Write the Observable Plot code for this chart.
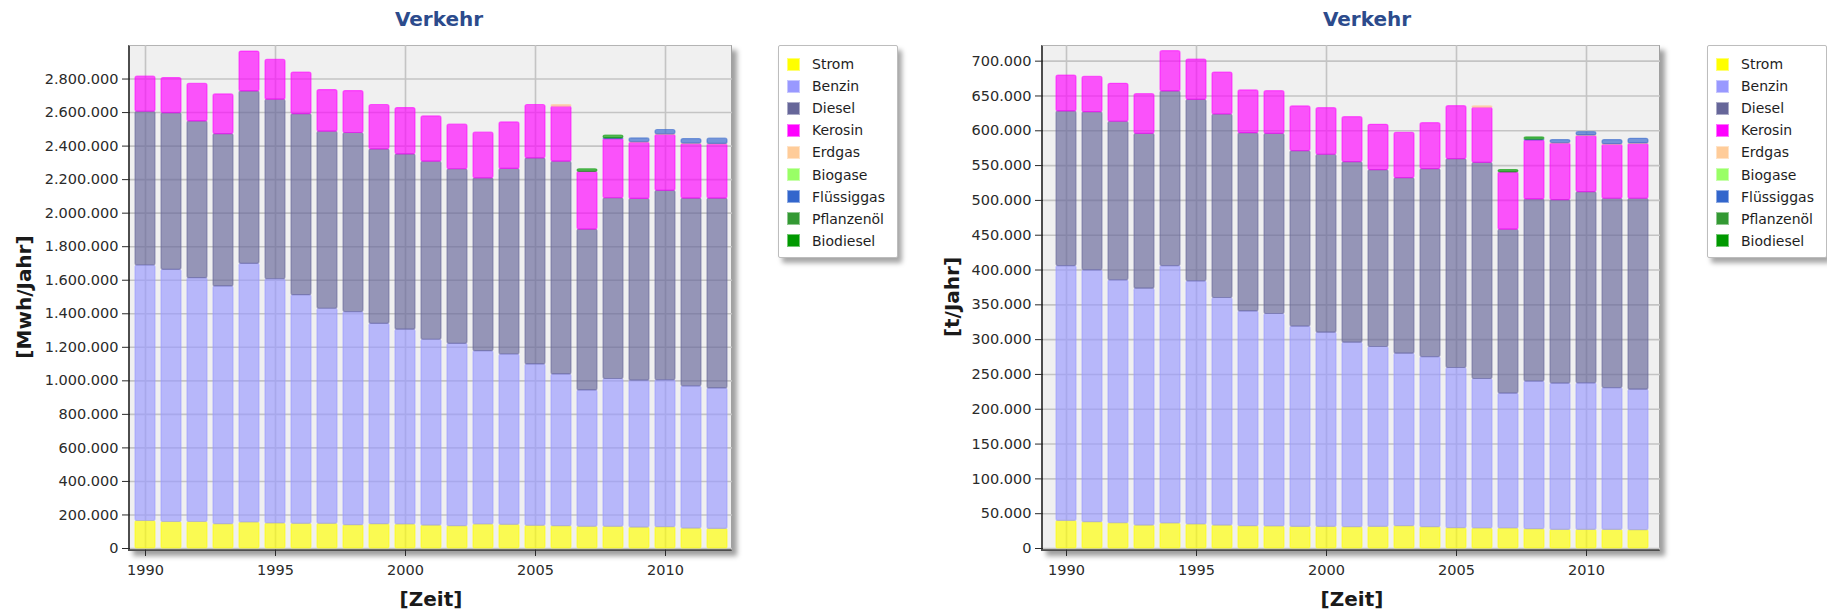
<!DOCTYPE html>
<html>
<head>
<meta charset="utf-8">
<script src="https://cdn.jsdelivr.net/npm/d3@7"></script>
<script src="https://cdn.jsdelivr.net/npm/@observablehq/plot@0.6"></script>
<style>
  body { margin: 0; background: #fff; font-family: "DejaVu Sans", Verdana, sans-serif; }
  #root { position: relative; width: 1827px; height: 611px; overflow: hidden; }
  .frame { position: absolute; box-sizing: border-box; background: #f0f0f0;
           border-left: 2.5px solid #4d4d4d; border-bottom: 2.5px solid #4d4d4d;
           border-top: 1px solid #b4b4b4; border-right: 1px solid #a0a0a0;
           box-shadow: 5px 5px 5px rgba(0,0,0,0.38); }
  .chart { position: absolute; top: 0; }
  .title { position: absolute; font-weight: bold; font-size: 20px; color: #2c4b8c;
           transform: translateX(-50%); white-space: nowrap; line-height: 20px; }
  .atitle { position: absolute; font-weight: bold; font-size: 20px; color: #1a1a1a;
            white-space: nowrap; line-height: 20px; }
  .legend { position: absolute; box-sizing: border-box; background: #fff; border: 1px solid #bdbdbd;
            border-radius: 2px; box-shadow: 4px 5px 5px rgba(0,0,0,0.35); font-size: 14px; color: #1e1e1e;
            padding-top: 7px; }
  .legend .item { display: flex; align-items: center; height: 22.1px; padding-left: 8px; }
  .legend .sw { width: 13px; height: 13px; margin-right: 12px; box-shadow: inset 0 0 0 1px rgba(255,255,255,0.45); }
</style>
</head>
<body>
<div id="root"></div>
<script>
// ---------------- data ----------------
const years = [1990,1991,1992,1993,1994,1995,1996,1997,1998,1999,2000,2001,2002,2003,2004,2005,2006,2007,2008,2009,2010,2011,2012];
const tickYears = [1990, 1995, 2000, 2005, 2010];
const fuels = ["Strom","Benzin","Diesel","Kerosin","Erdgas","Biogase","Flüssiggas","Pflanzenöl","Biodiesel"];
const fuelColors = ["#ffff00","#9999ff","#666699","#ff00ff","#ffcc99","#99ff66","#3366cc","#339933","#009900"];

// Energy, MWh/Jahr
const mwhStrom      = [164000,158000,158000,145000,155000,149000,147000,147000,139000,145000,143000,137000,133000,143000,141000,135000,133000,129000,129000,125000,127000,119000,117000];
const mwhBenzin     = [1524000,1504000,1454000,1418000,1543000,1457000,1364000,1283000,1271000,1195000,1162000,1108000,1088000,1034000,1016000,963000,905000,814000,882000,876000,876000,848000,838000];
const mwhDiesel     = [917000,935000,935000,909000,1028000,1071000,1080000,1056000,1068000,1041000,1046000,1062000,1041000,1031000,1107000,1229000,1269000,959000,1078000,1084000,1130000,1120000,1132000];
const mwhKerosin    = [209000,209000,225000,236000,238000,238000,248000,248000,250000,264000,276000,270000,266000,272000,277000,318000,328000,344000,353000,336000,334000,325000,323000];
const mwhErdgas     = [0,0,0,0,0,0,0,0,0,0,0,0,0,0,0,0,10000,0,0,3000,3000,3000,3000];
const mwhBiogase    = [0,0,0,0,0,0,0,0,0,0,0,0,0,0,0,0,0,0,0,0,0,0,0];
const mwhFluessig   = [0,0,0,0,0,0,0,0,0,0,0,0,0,0,0,0,0,0,4000,22000,26000,27000,31000];
const mwhPflanzen   = [0,0,0,0,0,0,0,0,0,0,0,0,0,0,0,0,0,0,0,0,0,0,0];
const mwhBiodiesel  = [0,0,0,0,0,0,0,0,0,0,0,0,0,0,0,0,0,16000,16000,0,0,0,0];

// Emissions, t/Jahr
const tStrom     = [39600,37800,36300,33000,35900,34500,33000,32000,31600,31000,31000,30600,31000,32000,30600,29200,28700,28700,27700,26700,26700,26700,26300];
const tBenzin    = [366100,361700,348900,340200,369800,349200,326800,308600,305200,287700,279000,265100,258400,247900,244400,230100,214800,193800,212000,210200,210600,203800,201900];
const tDiesel    = [222100,227300,227800,222500,250800,260800,263600,256000,258900,252100,255600,259300,254100,252100,270000,300000,310500,235400,261700,263500,274600,271900,274200];
const tKerosin   = [51600,50800,54500,56900,57800,57900,60300,61300,61200,64200,66900,64600,65100,65200,66000,76100,79100,82300,84700,81200,80700,77700,78700];
const tErdgas    = [0,0,0,0,0,0,0,0,0,0,0,0,0,0,0,0,2000,0,0,700,700,700,700];
const tBiogase   = [0,0,0,0,0,0,0,0,0,0,0,0,0,0,0,0,0,0,0,0,0,0,0];
const tFluessig  = [0,0,0,0,0,0,0,0,0,0,0,0,0,0,0,0,0,0,1000,4300,4700,5800,6700];
const tPflanzen  = [0,0,0,0,0,0,0,0,0,0,0,0,0,0,0,0,0,0,0,0,0,0,0];
const tBiodiesel = [0,0,0,0,0,0,0,0,0,0,0,0,0,0,0,0,0,3300,3300,0,0,0,0];

const mwhTicks = [0,200000,400000,600000,800000,1000000,1200000,1400000,1600000,1800000,2000000,2200000,2400000,2600000,2800000];
const tTicks = [0,50000,100000,150000,200000,250000,300000,350000,400000,450000,500000,550000,600000,650000,700000];

// ---------------- build ----------------
function toRows(series) {
  const out = [];
  fuels.forEach((f, i) => series[i].forEach((v, j) => { if (v > 0) out.push({year: years[j], fuel: f, value: v}); }));
  return out;
}
const fmt = d => d3.format(",")(d).replace(/,/g, ".");
const root = document.getElementById("root");

function addEl(cls, text, css) {
  const el = document.createElement("div");
  el.className = cls;
  if (text != null) el.textContent = text;
  Object.assign(el.style, css);
  root.appendChild(el);
  return el;
}

function chart(cfg) {
  addEl("frame", null, {left: (cfg.left + cfg.marginLeft - 2.5) + "px", top: "45px",
    width: (cfg.width - cfg.marginLeft - cfg.marginRight + 2.5) + "px", height: "505.5px"});
  const svg = Plot.plot({
    width: cfg.width, height: 611,
    marginLeft: cfg.marginLeft, marginRight: cfg.marginRight, marginTop: 45, marginBottom: 63,
    style: {background: "transparent", fontFamily: "'DejaVu Sans', Verdana, sans-serif", fontSize: "14.5px", color: "#2a2a2a", overflow: "visible"},
    x: {type: "band", domain: years, paddingInner: 0.25, paddingOuter: 0.125, ticks: tickYears,
        tickFormat: d => String(d), tickSize: 8, tickPadding: 8, label: null},
    y: {domain: cfg.yDomain, ticks: cfg.yTicks, tickFormat: fmt, tickSize: 8, tickPadding: 4, label: null},
    color: {domain: fuels, range: fuelColors},
    marks: [
      Plot.ruleY(cfg.yTicks, {stroke: "#c4c4c4", strokeWidth: 1.6}),
      Plot.ruleX(tickYears, {stroke: "#c4c4c4", strokeWidth: 1.6}),
      Plot.barY(toRows(cfg.series), Plot.stackY({
        x: "year", y: "value", fill: "fuel", stroke: "fuel", order: fuels,
        fillOpacity: 0.66, strokeOpacity: 0.55, strokeWidth: 1.2, rx: 2
      }))
    ]
  });
  const wrap = addEl("chart", null, {left: cfg.left + "px"});
  wrap.appendChild(svg);

  addEl("title", "Verkehr", {left: cfg.titleX + "px", top: "9px"});
  addEl("atitle", cfg.yLabel, {left: cfg.yLabelX + "px", top: "297px",
    transform: "translate(-50%,-50%) rotate(-90deg)"});
  addEl("atitle", "[Zeit]", {left: cfg.xLabelX + "px", top: "599px", transform: "translate(-50%,-50%)"});

  const lg = addEl("legend", null, {left: cfg.legendX + "px", top: "45px", width: "120px", height: "213px"});
  fuels.forEach((f, i) => {
    const it = document.createElement("div"); it.className = "item";
    const sw = document.createElement("div"); sw.className = "sw"; sw.style.background = fuelColors[i];
    const tx = document.createElement("span"); tx.textContent = f;
    it.appendChild(sw); it.appendChild(tx); lg.appendChild(it);
  });
}

chart({
  left: 0, width: 760, marginLeft: 130, marginRight: 28,
  yDomain: [0, 3000000], yTicks: mwhTicks, yLabel: "[Mwh/Jahr]",
  series: [mwhStrom, mwhBenzin, mwhDiesel, mwhKerosin, mwhErdgas, mwhBiogase, mwhFluessig, mwhPflanzen, mwhBiodiesel],
  titleX: 439, yLabelX: 24, xLabelX: 431, legendX: 778
});
chart({
  left: 900, width: 780, marginLeft: 143, marginRight: 20,
  yDomain: [0, 722500], yTicks: tTicks, yLabel: "[t/Jahr]",
  series: [tStrom, tBenzin, tDiesel, tKerosin, tErdgas, tBiogase, tFluessig, tPflanzen, tBiodiesel],
  titleX: 1367, yLabelX: 952, xLabelX: 1352, legendX: 1707
});
</script>
</body>
</html>
